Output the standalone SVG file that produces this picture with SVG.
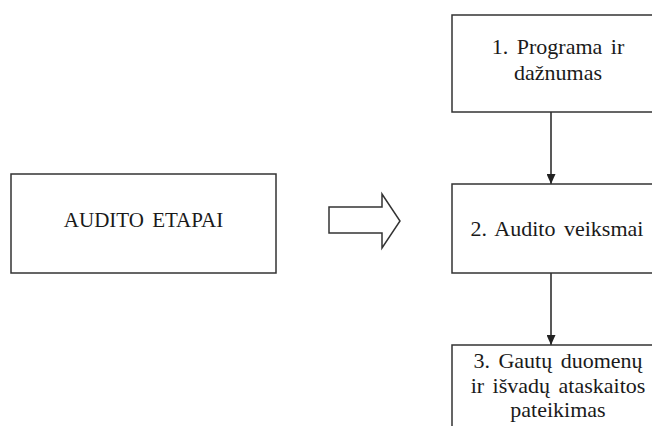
<svg xmlns="http://www.w3.org/2000/svg" width="652" height="426" viewBox="0 0 652 426">
<style>
.box{fill:#fff;stroke:#333;stroke-width:1.5}
.t{font-family:"Liberation Serif","Times New Roman",serif;font-size:22px;fill:#1a1a1a;text-anchor:middle;word-spacing:3px}
.ln{stroke:#222;stroke-width:1.5;fill:none}
</style>
<defs>
<marker id="ah" viewBox="0 0 10 10" refX="10" refY="5" markerWidth="10" markerHeight="9" markerUnits="userSpaceOnUse" orient="auto" preserveAspectRatio="none">
<path d="M0,0 L10,5 L0,10 Z" fill="#222"/>
</marker>
</defs>
<rect width="652" height="426" fill="#fff"/>
<g id="connectors">
<path class="box" d="M329,207 H382 V194 L400,221 L382,248 V233 H329 Z"/>
<line class="ln" x1="551" y1="112" x2="551" y2="184" marker-end="url(#ah)"/>
<line class="ln" x1="551" y1="273" x2="551" y2="345" marker-end="url(#ah)"/>
</g>
<g id="audito-etapai">
<rect class="box" x="11" y="174" width="265" height="99"/>
<text class="t" x="143.5" y="227" style="font-size:21px">AUDITO ETAPAI</text>
</g>
<g id="step1">
<rect class="box" x="452" y="15" width="210" height="97"/>
<text class="t" x="558" y="54">1. Programa ir</text>
<text class="t" x="558" y="80">dažnumas</text>
</g>
<g id="step2">
<rect class="box" x="452" y="184" width="210" height="89"/>
<text class="t" x="557" y="236">2. Audito veiksmai</text>
</g>
<g id="step3">
<rect class="box" x="452" y="345" width="210" height="100"/>
<text class="t" x="558" y="368">3. Gautų duomenų</text>
<text class="t" x="558" y="393">ir išvadų ataskaitos</text>
<text class="t" x="558" y="417">pateikimas</text>
</g>
</svg>
